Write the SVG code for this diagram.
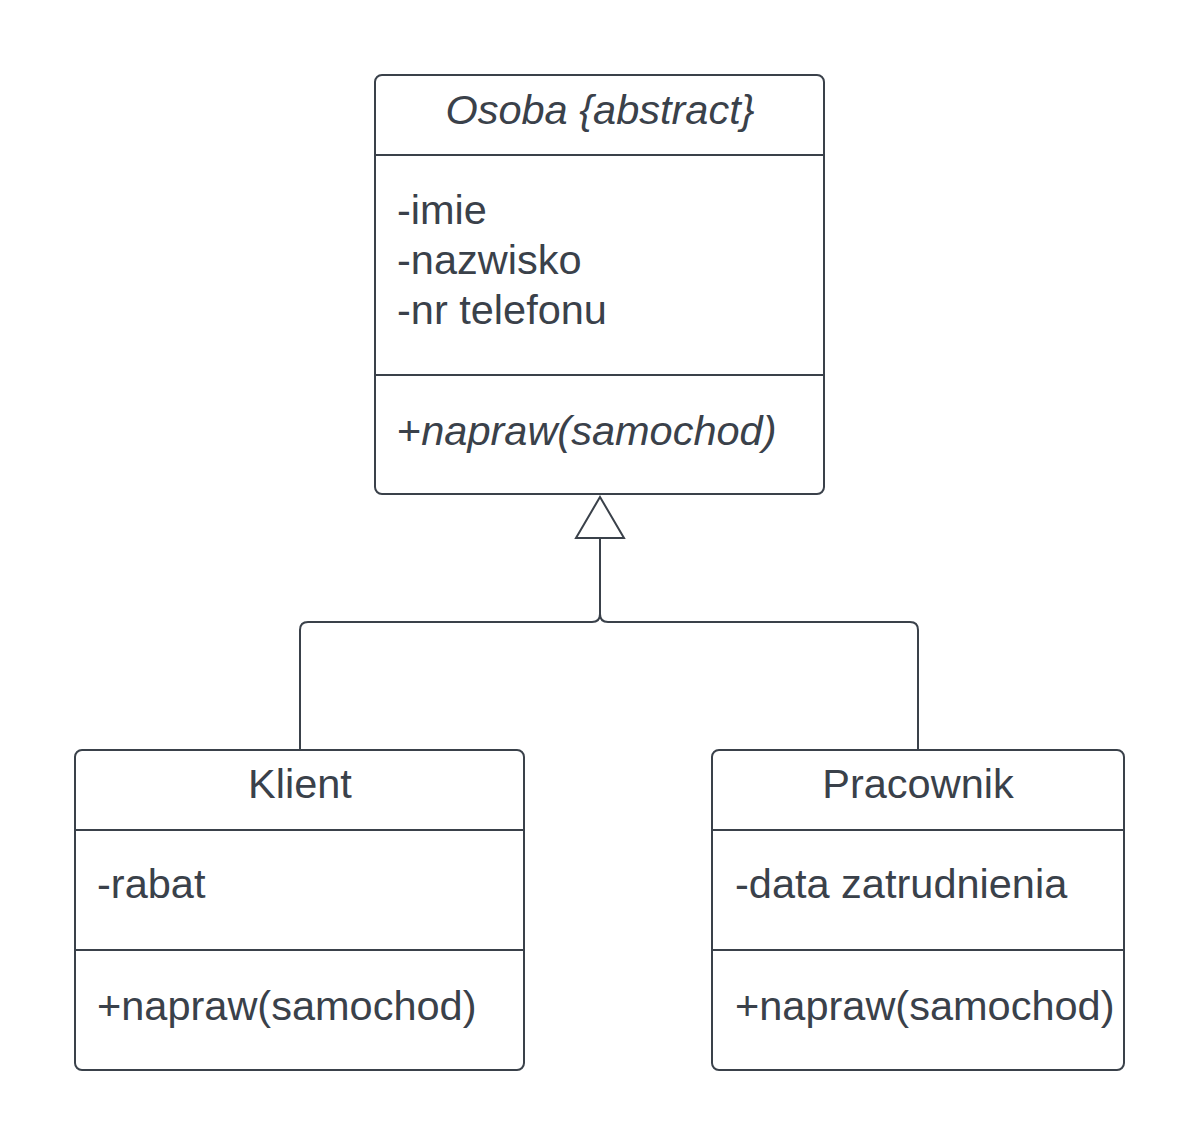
<svg xmlns="http://www.w3.org/2000/svg" width="1200" height="1146" viewBox="0 0 1200 1146">
<style>
.box{fill:#fff;stroke:#3a414a;stroke-width:2}
.div{stroke:#3a414a;stroke-width:2}
.t{font-family:"Liberation Sans",Arial,sans-serif;font-size:41.5px;fill:#3a414a}
.c{text-anchor:middle}
.i{font-style:italic}
.conn{fill:none;stroke:#3a414a;stroke-width:2}
</style>
<rect width="1200" height="1146" fill="#fff"/>
<g id="connectors">
<path class="conn" d="M600 538 V614 Q600 622 592 622 H308 Q300 622 300 630 V750"/>
<path class="conn" d="M600 614 Q600 622 608 622 H910 Q918 622 918 630 V750"/>
<polygon class="conn" points="600,497 624,538 576,538" fill="#fff"/>
</g>
<g id="osoba">
<rect class="box" x="375" y="75" width="449" height="419" rx="7"/>
<line class="div" x1="375" y1="155" x2="824" y2="155"/>
<line class="div" x1="375" y1="375" x2="824" y2="375"/>
<text class="t c i" x="600" y="124">Osoba {abstract}</text>
<text class="t" x="397" y="223.5">-imie</text>
<text class="t" x="397" y="273.5">-nazwisko</text>
<text class="t" x="397" y="323.5">-nr telefonu</text>
<text class="t" x="397" y="444.5"><tspan>+</tspan><tspan class="i">napraw(samochod)</tspan></text>
</g>
<g id="klient">
<rect class="box" x="75" y="750" width="449" height="320" rx="7"/>
<line class="div" x1="75" y1="830" x2="524" y2="830"/>
<line class="div" x1="75" y1="950" x2="524" y2="950"/>
<text class="t c" x="300" y="798">Klient</text>
<text class="t" x="97" y="898">-rabat</text>
<text class="t" x="97" y="1020">+napraw(samochod)</text>
</g>
<g id="pracownik">
<rect class="box" x="712" y="750" width="412" height="320" rx="7"/>
<line class="div" x1="712" y1="830" x2="1124" y2="830"/>
<line class="div" x1="712" y1="950" x2="1124" y2="950"/>
<text class="t c" x="918" y="798">Pracownik</text>
<text class="t" x="735" y="898">-data zatrudnienia</text>
<text class="t" x="735" y="1020">+napraw(samochod)</text>
</g>
</svg>
